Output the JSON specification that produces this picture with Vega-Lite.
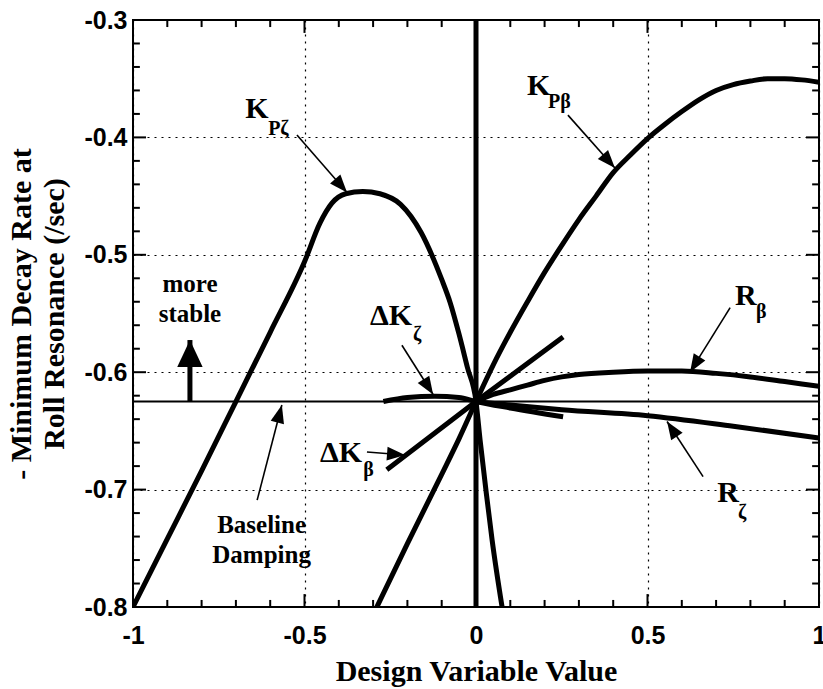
{
  "$schema": "https://vega.github.io/schema/vega-lite/v6.json",
  "width": 686,
  "height": 587,
  "autosize": {"type": "none"},
  "padding": {"left": 133, "top": 20, "right": 4, "bottom": 82},
  "background": "white",
  "config": {
    "view": {"stroke": "black", "strokeWidth": 2},
    "axis": {"domain": false, "labelFlush": false, "labelOverlap": false}
  },
  "datasets": {
    "curves": [
      {"series": "KPζ", "x": -1, "y": -0.8},
      {"series": "KPζ", "x": -0.9, "y": -0.742},
      {"series": "KPζ", "x": -0.8, "y": -0.684},
      {"series": "KPζ", "x": -0.7, "y": -0.625},
      {"series": "KPζ", "x": -0.6, "y": -0.566},
      {"series": "KPζ", "x": -0.5, "y": -0.506},
      {"series": "KPζ", "x": -0.455, "y": -0.473},
      {"series": "KPζ", "x": -0.42, "y": -0.456},
      {"series": "KPζ", "x": -0.38, "y": -0.448},
      {"series": "KPζ", "x": -0.33, "y": -0.446},
      {"series": "KPζ", "x": -0.28, "y": -0.448},
      {"series": "KPζ", "x": -0.22, "y": -0.457},
      {"series": "KPζ", "x": -0.16, "y": -0.481},
      {"series": "KPζ", "x": -0.1, "y": -0.521},
      {"series": "KPζ", "x": -0.075, "y": -0.541},
      {"series": "KPζ", "x": -0.05, "y": -0.567},
      {"series": "KPζ", "x": -0.025, "y": -0.596},
      {"series": "KPζ", "x": 0, "y": -0.625},
      {"series": "KPζ", "x": 0.012, "y": -0.658},
      {"series": "KPζ", "x": 0.03, "y": -0.703},
      {"series": "KPζ", "x": 0.047, "y": -0.743},
      {"series": "KPζ", "x": 0.076, "y": -0.8},
      {"series": "KPβ", "x": -0.289, "y": -0.8},
      {"series": "KPβ", "x": -0.2, "y": -0.746},
      {"series": "KPβ", "x": -0.1, "y": -0.687},
      {"series": "KPβ", "x": -0.05, "y": -0.657},
      {"series": "KPβ", "x": 0, "y": -0.625},
      {"series": "KPβ", "x": 0.05, "y": -0.594},
      {"series": "KPβ", "x": 0.1, "y": -0.566},
      {"series": "KPβ", "x": 0.15, "y": -0.54},
      {"series": "KPβ", "x": 0.2, "y": -0.515},
      {"series": "KPβ", "x": 0.25, "y": -0.492},
      {"series": "KPβ", "x": 0.3, "y": -0.47},
      {"series": "KPβ", "x": 0.35, "y": -0.45},
      {"series": "KPβ", "x": 0.4, "y": -0.43},
      {"series": "KPβ", "x": 0.45, "y": -0.415},
      {"series": "KPβ", "x": 0.5, "y": -0.401},
      {"series": "KPβ", "x": 0.55, "y": -0.389},
      {"series": "KPβ", "x": 0.6, "y": -0.378},
      {"series": "KPβ", "x": 0.65, "y": -0.368},
      {"series": "KPβ", "x": 0.7, "y": -0.36},
      {"series": "KPβ", "x": 0.75, "y": -0.355},
      {"series": "KPβ", "x": 0.8, "y": -0.352},
      {"series": "KPβ", "x": 0.85, "y": -0.35},
      {"series": "KPβ", "x": 0.9, "y": -0.35},
      {"series": "KPβ", "x": 0.95, "y": -0.351},
      {"series": "KPβ", "x": 1, "y": -0.353},
      {"series": "Rβ", "x": 0, "y": -0.625},
      {"series": "Rβ", "x": 0.05, "y": -0.619},
      {"series": "Rβ", "x": 0.1, "y": -0.615},
      {"series": "Rβ", "x": 0.15, "y": -0.611},
      {"series": "Rβ", "x": 0.2, "y": -0.607},
      {"series": "Rβ", "x": 0.25, "y": -0.604},
      {"series": "Rβ", "x": 0.3, "y": -0.602},
      {"series": "Rβ", "x": 0.4, "y": -0.6},
      {"series": "Rβ", "x": 0.5, "y": -0.599},
      {"series": "Rβ", "x": 0.6, "y": -0.599},
      {"series": "Rβ", "x": 0.7, "y": -0.601},
      {"series": "Rβ", "x": 0.8, "y": -0.604},
      {"series": "Rβ", "x": 0.9, "y": -0.608},
      {"series": "Rβ", "x": 1, "y": -0.612},
      {"series": "Rζ", "x": 0, "y": -0.625},
      {"series": "Rζ", "x": 0.1, "y": -0.628},
      {"series": "Rζ", "x": 0.25, "y": -0.632},
      {"series": "Rζ", "x": 0.5, "y": -0.637},
      {"series": "Rζ", "x": 0.75, "y": -0.646},
      {"series": "Rζ", "x": 1, "y": -0.656},
      {"series": "ΔKζ", "x": -0.27, "y": -0.625},
      {"series": "ΔKζ", "x": -0.2, "y": -0.6215},
      {"series": "ΔKζ", "x": -0.12, "y": -0.6205},
      {"series": "ΔKζ", "x": -0.05, "y": -0.6215},
      {"series": "ΔKζ", "x": 0, "y": -0.625},
      {"series": "ΔKζ", "x": 0.1, "y": -0.6305},
      {"series": "ΔKζ", "x": 0.254, "y": -0.638},
      {"series": "ΔKβ", "x": -0.26, "y": -0.683},
      {"series": "ΔKβ", "x": 0, "y": -0.625},
      {"series": "ΔKβ", "x": 0.254, "y": -0.57}
    ],
    "straight": [
      {"series": "vertical", "x": 0, "y": -0.3},
      {"series": "vertical", "x": 0, "y": -0.8}
    ],
    "baseline": [
      {"x": -1, "y": -0.625},
      {"x": 1, "y": -0.625}
    ],
    "xMajor": [{"v": -0.5}, {"v": 0}, {"v": 0.5}],
    "xMinor": [
      {"v": -0.9}, {"v": -0.8}, {"v": -0.7}, {"v": -0.6}, {"v": -0.4}, {"v": -0.3}, {"v": -0.2}, {"v": -0.1},
      {"v": 0.1}, {"v": 0.2}, {"v": 0.3}, {"v": 0.4}, {"v": 0.6}, {"v": 0.7}, {"v": 0.8}, {"v": 0.9}
    ],
    "yMajor": [{"v": -0.7}, {"v": -0.6}, {"v": -0.5}, {"v": -0.4}],
    "yMinor": [
      {"v": -0.78}, {"v": -0.76}, {"v": -0.74}, {"v": -0.72}, {"v": -0.68}, {"v": -0.66}, {"v": -0.64}, {"v": -0.62},
      {"v": -0.58}, {"v": -0.56}, {"v": -0.54}, {"v": -0.52}, {"v": -0.48}, {"v": -0.46}, {"v": -0.44}, {"v": -0.42},
      {"v": -0.38}, {"v": -0.36}, {"v": -0.34}, {"v": -0.32}
    ],
    "arrows": [
      {"label": "KPζ", "x": -0.522, "y": -0.398, "x2": -0.376, "y2": -0.447},
      {"label": "KPβ", "x": 0.268, "y": -0.381, "x2": 0.405, "y2": -0.426},
      {"label": "ΔKζ", "x": -0.216, "y": -0.577, "x2": -0.125, "y2": -0.619},
      {"label": "ΔKβ", "x": -0.318, "y": -0.668, "x2": -0.207, "y2": -0.6705},
      {"label": "Rβ", "x": 0.741, "y": -0.545, "x2": 0.624, "y2": -0.6},
      {"label": "Rζ", "x": 0.662, "y": -0.689, "x2": 0.557, "y2": -0.642},
      {"label": "Baseline", "x": -0.638, "y": -0.709, "x2": -0.566, "y2": -0.628}
    ],
    "stable": [
      {"x": -0.834, "y": -0.625, "x2": -0.834, "y2": -0.5726}
    ],
    "names": [
      {"x": -0.673, "y": -0.3835, "text": "K"},
      {"x": 0.149, "y": -0.3639, "text": "K"},
      {"x": -0.309, "y": -0.5598, "text": "ΔK"},
      {"x": -0.455, "y": -0.6765, "text": "ΔK"},
      {"x": 0.755, "y": -0.5428, "text": "R"},
      {"x": 0.703, "y": -0.7106, "text": "R"}
    ],
    "subs": [
      {"x": -0.606, "y": -0.398, "text": "Pζ"},
      {"x": 0.21, "y": -0.375, "text": "Pβ"},
      {"x": -0.184, "y": -0.5734, "text": "ζ"},
      {"x": -0.329, "y": -0.688, "text": "β"},
      {"x": 0.816, "y": -0.554, "text": "β"},
      {"x": 0.764, "y": -0.725, "text": "ζ"}
    ],
    "notes": [
      {"x": -0.834, "y": -0.5317, "text": "more"},
      {"x": -0.834, "y": -0.5572, "text": "stable"},
      {"x": -0.625, "y": -0.737, "text": "Baseline"},
      {"x": -0.625, "y": -0.7625, "text": "Damping"}
    ]
  },
  "layer": [
    {
      "data": {"name": "curves"},
      "mark": {"type": "line", "color": "black", "strokeWidth": 5, "clip": true, "strokeCap": "butt", "strokeJoin": "round", "interpolate": "monotone"},
      "encoding": {
        "x": {
          "field": "x", "type": "quantitative",
          "scale": {"domain": [-1, 1], "nice": false, "zero": false},
          "axis": {
            "orient": "bottom", "values": [-1, -0.5, 0, 0.5, 1], "offset": -13, "tickSize": 13, "tickOpacity": 0, "labelPadding": 16,
            "labelExpr": "datum.value < 0 ? '-' + format(-datum.value, '~g') : format(datum.value, '~g')",
            "labelFont": "Liberation Sans", "labelFontSize": 25, "labelFontWeight": "bold", "labelColor": "black",
            "grid": false,
            "title": "Design Variable Value", "titleFont": "Liberation Serif", "titleFontSize": 30,
            "titleFontWeight": "bold", "titleColor": "black", "titlePadding": 8
          }
        },
        "y": {
          "field": "y", "type": "quantitative",
          "scale": {"domain": [-0.8, -0.3], "nice": false, "zero": false},
          "axis": {
            "orient": "left", "values": [-0.8, -0.7, -0.6, -0.5, -0.4, -0.3], "offset": -13, "tickSize": 13, "tickOpacity": 0, "labelPadding": 6,
            "labelExpr": "datum.value < 0 ? '-' + format(-datum.value, '~g') : format(datum.value, '~g')",
            "labelFont": "Liberation Sans", "labelFontSize": 25, "labelFontWeight": "bold", "labelColor": "black",
            "grid": false,
            "title": ["- Minimum Decay Rate at", "Roll Resonance (/sec)"], "titleFont": "Liberation Serif",
            "titleFontSize": 30, "titleFontWeight": "bold", "titleColor": "black", "titleLineHeight": 33,
            "titlePadding": 14
          }
        },
        "detail": {"field": "series"}
      }
    },
    {
      "data": {"name": "straight"},
      "mark": {"type": "line", "color": "black", "strokeWidth": 5, "clip": true, "strokeCap": "butt"},
      "encoding": {
        "x": {
          "field": "x", "type": "quantitative",
          "scale": {"domain": [-1, 1], "nice": false, "zero": false},
          "axis": {"orient": "bottom", "values": [-1, -0.5, 0, 0.5, 1], "ticks": false, "labels": false, "title": null, "zindex": 0,
                   "grid": true, "gridColor": "black", "gridDash": [2, 5], "gridWidth": 1.2}
        },
        "y": {
          "field": "y", "type": "quantitative",
          "scale": {"domain": [-0.8, -0.3], "nice": false, "zero": false},
          "axis": {"orient": "left", "values": [-0.8, -0.7, -0.6, -0.5, -0.4, -0.3], "ticks": false, "labels": false, "title": null, "zindex": 0,
                   "grid": true, "gridColor": "black", "gridDash": [2, 5], "gridWidth": 1.2}
        },
        "detail": {"field": "series"}
      }
    },
    {
      "data": {"name": "xMajor"},
      "mark": {"type": "rule", "color": "black", "strokeWidth": 2},
      "encoding": {"x": {"field": "v", "type": "quantitative", "axis": null}, "y": {"datum": -0.8, "axis": null}, "y2": {"datum": -0.789}}
    },
    {
      "data": {"name": "xMajor"},
      "mark": {"type": "rule", "color": "black", "strokeWidth": 2},
      "encoding": {"x": {"field": "v", "type": "quantitative", "axis": null}, "y": {"datum": -0.3, "axis": null}, "y2": {"datum": -0.311}}
    },
    {
      "data": {"name": "xMinor"},
      "mark": {"type": "rule", "color": "black", "strokeWidth": 2},
      "encoding": {"x": {"field": "v", "type": "quantitative", "axis": null}, "y": {"datum": -0.8, "axis": null}, "y2": {"datum": -0.794}}
    },
    {
      "data": {"name": "xMinor"},
      "mark": {"type": "rule", "color": "black", "strokeWidth": 2},
      "encoding": {"x": {"field": "v", "type": "quantitative", "axis": null}, "y": {"datum": -0.3, "axis": null}, "y2": {"datum": -0.306}}
    },
    {
      "data": {"name": "yMajor"},
      "mark": {"type": "rule", "color": "black", "strokeWidth": 2},
      "encoding": {"y": {"field": "v", "type": "quantitative", "axis": null}, "x": {"datum": -1, "axis": null}, "x2": {"datum": -0.962}}
    },
    {
      "data": {"name": "yMajor"},
      "mark": {"type": "rule", "color": "black", "strokeWidth": 2},
      "encoding": {"y": {"field": "v", "type": "quantitative", "axis": null}, "x": {"datum": 1, "axis": null}, "x2": {"datum": 0.962}}
    },
    {
      "data": {"name": "yMinor"},
      "mark": {"type": "rule", "color": "black", "strokeWidth": 2},
      "encoding": {"y": {"field": "v", "type": "quantitative", "axis": null}, "x": {"datum": -1, "axis": null}, "x2": {"datum": -0.98}}
    },
    {
      "data": {"name": "yMinor"},
      "mark": {"type": "rule", "color": "black", "strokeWidth": 2},
      "encoding": {"y": {"field": "v", "type": "quantitative", "axis": null}, "x": {"datum": 1, "axis": null}, "x2": {"datum": 0.98}}
    },
    {
      "data": {"name": "baseline"},
      "mark": {"type": "line", "color": "black", "strokeWidth": 2},
      "encoding": {
        "x": {"field": "x", "type": "quantitative", "axis": null},
        "y": {"field": "y", "type": "quantitative", "axis": null}
      }
    },
    {
      "data": {"name": "arrows"},
      "mark": {"type": "rule", "color": "black", "strokeWidth": 1.6},
      "encoding": {
        "x": {"field": "x", "type": "quantitative", "axis": null},
        "x2": {"field": "x2"},
        "y": {"field": "y", "type": "quantitative", "axis": null},
        "y2": {"field": "y2"}
      }
    },
    {
      "data": {"name": "arrows"},
      "transform": [
        {"calculate": "atan2((datum.x2 - datum.x) * 343, (datum.y2 - datum.y) * 1174) * 180 / PI", "as": "angle"}
      ],
      "mark": {"type": "point", "shape": "M0,0L-0.38,1L0.38,1Z", "size": 1296, "filled": true, "color": "black", "opacity": 1, "strokeWidth": 0},
      "encoding": {
        "x": {"field": "x2", "type": "quantitative", "axis": null},
        "y": {"field": "y2", "type": "quantitative", "axis": null},
        "angle": {"field": "angle", "type": "quantitative", "scale": null}
      }
    },
    {
      "data": {"name": "stable"},
      "mark": {"type": "rule", "color": "black", "strokeWidth": 5, "strokeCap": "butt"},
      "encoding": {
        "x": {"field": "x", "type": "quantitative", "axis": null},
        "x2": {"field": "x2"},
        "y": {"field": "y", "type": "quantitative", "axis": null},
        "y2": {"field": "y2"}
      }
    },
    {
      "data": {"name": "stable"},
      "mark": {"type": "point", "shape": "M0,0L-0.47,1L0.47,1Z", "size": 2916, "filled": true, "color": "black", "opacity": 1, "strokeWidth": 0},
      "encoding": {
        "x": {"field": "x2", "type": "quantitative", "axis": null},
        "y": {"field": "y2", "type": "quantitative", "axis": null}
      }
    },
    {
      "data": {"name": "names"},
      "mark": {"type": "text", "font": "Liberation Serif", "fontWeight": "bold", "fontSize": 30, "align": "left", "baseline": "alphabetic", "color": "black"},
      "encoding": {
        "x": {"field": "x", "type": "quantitative", "axis": null},
        "y": {"field": "y", "type": "quantitative", "axis": null},
        "text": {"field": "text"}
      }
    },
    {
      "data": {"name": "subs"},
      "mark": {"type": "text", "font": "Liberation Serif", "fontWeight": "bold", "fontSize": 20, "align": "left", "baseline": "alphabetic", "color": "black"},
      "encoding": {
        "x": {"field": "x", "type": "quantitative", "axis": null},
        "y": {"field": "y", "type": "quantitative", "axis": null},
        "text": {"field": "text"}
      }
    },
    {
      "data": {"name": "notes"},
      "mark": {"type": "text", "font": "Liberation Serif", "fontWeight": "bold", "fontSize": 25, "align": "center", "baseline": "alphabetic", "color": "black"},
      "encoding": {
        "x": {"field": "x", "type": "quantitative", "axis": null},
        "y": {"field": "y", "type": "quantitative", "axis": null},
        "text": {"field": "text"}
      }
    }
  ],
  "resolve": {"axis": {"x": "independent", "y": "independent"}}
}
